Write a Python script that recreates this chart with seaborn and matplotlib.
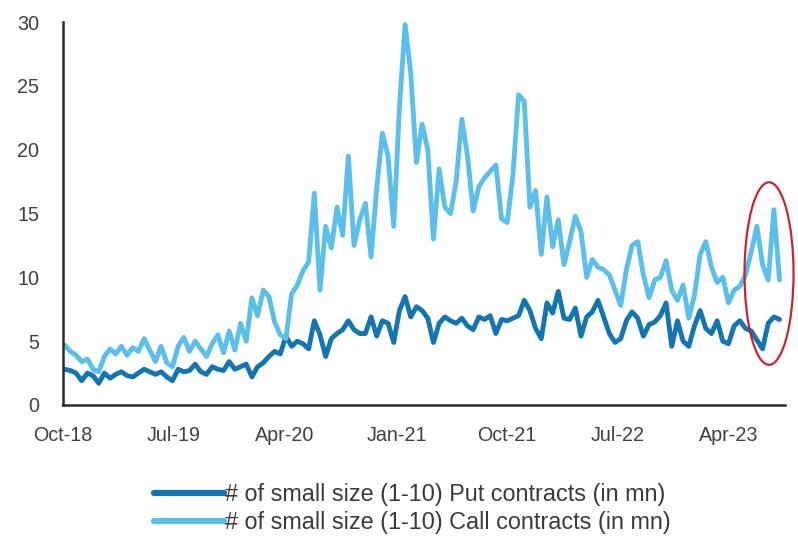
import matplotlib
matplotlib.use("Agg")
import matplotlib.pyplot as plt
import matplotlib.dates as mdates
from matplotlib.patches import Ellipse
import numpy as np
import pandas as pd
import seaborn as sns

# Bi-weekly observations, Oct-2018 .. Aug-2023 (millions of contracts)
start_date = "2018-10-05"
put_contracts = [
    2.8, 2.7, 2.5, 1.9, 2.5, 2.3, 1.7, 2.5, 2.1, 2.4,
    2.6, 2.3, 2.2, 2.5, 2.8, 2.6, 2.4, 2.6, 2.2, 1.9,
    2.8, 2.6, 2.7, 3.2, 2.6, 2.4, 3.0, 2.8, 2.7, 3.4,
    2.8, 3.0, 3.2, 2.2, 3.0, 3.3, 3.8, 4.2, 4.0, 5.4,
    4.6, 5.0, 4.8, 4.4, 6.6, 5.5, 3.8, 5.2, 5.6, 5.9,
    6.6, 5.9, 5.6, 5.6, 6.9, 5.4, 6.6, 6.4, 4.9, 7.4,
    8.5, 6.9, 7.7, 7.4, 6.8, 4.9, 6.4, 6.9, 6.6, 6.4,
    6.8, 6.2, 5.9, 6.9, 6.7, 7.0, 5.6, 6.7, 6.6, 6.8,
    7.0, 8.2, 7.4, 6.0, 5.2, 8.0, 7.2, 8.9, 6.8, 6.7,
    7.6, 5.4, 6.9, 7.3, 8.2, 6.9, 5.6, 4.9, 5.2, 6.6,
    7.3, 6.8, 5.4, 6.3, 6.5, 7.0, 8.0, 4.6, 6.6, 5.0,
    4.6, 6.2, 7.4, 6.0, 5.6, 6.6, 5.0, 4.8, 6.2, 6.6,
    6.0, 5.8, 5.1, 4.4, 6.4, 6.9, 6.7,
]
call_contracts = [
    4.7, 4.2, 3.9, 3.4, 3.6, 2.8, 2.6, 3.8, 4.4, 4.0,
    4.6, 3.9, 4.5, 4.2, 5.2, 4.3, 3.4, 4.6, 3.3, 3.0,
    4.6, 5.3, 4.2, 5.0, 4.4, 3.8, 4.8, 5.5, 4.1, 5.8,
    4.3, 6.4, 5.0, 8.4, 7.0, 9.0, 8.5, 6.5, 5.5, 5.2,
    8.7, 9.4, 10.5, 11.2, 16.6, 9.0, 14.0, 12.3, 15.5, 13.3,
    19.5, 12.5, 14.5, 15.8, 11.6, 17.0, 21.3, 19.5, 14.0, 23.3,
    29.8, 26.0, 19.0, 22.0, 20.0, 13.0, 18.5, 15.5, 15.0, 17.5,
    22.4, 19.5, 15.2, 17.1, 17.8, 18.3, 18.8, 14.6, 14.3, 18.0,
    24.3, 23.8, 15.5, 16.8, 11.8, 16.3, 12.4, 14.5, 11.0, 12.8,
    14.8, 13.6, 10.0, 11.4, 10.8, 10.6, 10.2, 9.0, 7.8, 10.6,
    12.5, 12.8, 10.2, 8.4, 9.8, 10.0, 11.3, 9.0, 8.2, 9.4,
    6.8, 8.6, 11.8, 12.8, 10.8, 9.6, 10.0, 8.0, 9.0, 9.3,
    10.2, 12.0, 14.0, 11.0, 9.8, 15.3, 9.8,
]
tick_labels = ["Oct-18", "Jul-19", "Apr-20", "Jan-21", "Oct-21", "Jul-22", "Apr-23"]
tick_dates = ["2018-10-01", "2019-07-01", "2020-04-01", "2021-01-01",
              "2021-10-01", "2022-07-01", "2023-04-01"]
put_label = "# of small size (1-10) Put contracts (in mn)"
call_label = "# of small size (1-10) Call contracts (in mn)"

dates = pd.date_range(start_date, periods=len(put_contracts), freq="14D")
df = pd.DataFrame({"date": dates, put_label: put_contracts, call_label: call_contracts})
long_df = df.melt(id_vars="date", var_name="series", value_name="value")

sns.set_theme(style="white")
plt.rcParams["font.family"] = ["Liberation Sans", "DejaVu Sans"]

fig = plt.figure(figsize=(7.98, 5.40), dpi=100)
ax = fig.add_axes([0.079, 0.25, 0.905, 0.709])

palette = {put_label: "#1476b0", call_label: "#5cbfea"}
sns.lineplot(data=long_df, x="date", y="value", hue="series",
             hue_order=[put_label, call_label], palette=palette,
             linewidth=3.5, ax=ax, legend=True)

ax.set_ylim(0, 30)
ax.set_yticks(range(0, 31, 5))
ax.set_xlim(pd.Timestamp("2018-10-01"), pd.Timestamp("2023-08-18"))
ax.set_xticks(pd.to_datetime(tick_dates))
ax.set_xticklabels(tick_labels)
ax.set_xlabel("")
ax.set_ylabel("")

for side in ["top", "right"]:
    ax.spines[side].set_visible(False)
for side in ["left", "bottom"]:
    ax.spines[side].set_color("#2b2b2b")
    ax.spines[side].set_linewidth(1.8)
ax.tick_params(axis="both", which="major", direction="out", length=6, width=1.6,
               color="#2b2b2b", labelsize=14.2, labelcolor="#404040")
ax.tick_params(axis="y", pad=11)
ax.tick_params(axis="x", pad=9)

# highlight of the most recent weeks
center = mdates.date2num(pd.Timestamp("2023-07-09"))
ax.add_patch(Ellipse((center, 10.3), width=121, height=14.3, fill=False,
                     edgecolor="#c8262b", linewidth=1.6, clip_on=False, zorder=5))

handles, labels = ax.get_legend_handles_labels()
ax.legend(handles, labels, loc="center", bbox_to_anchor=(0.517, 0.058),
          bbox_transform=fig.transFigure, frameon=False, fontsize=16.8,
          handlelength=3.0, handletextpad=0.05, labelspacing=0.2,
          labelcolor="#3a3a3a")
for line in ax.get_legend().get_lines():
    line.set_linewidth(4.5)

fig.savefig("out.png", dpi=100, facecolor="white")
